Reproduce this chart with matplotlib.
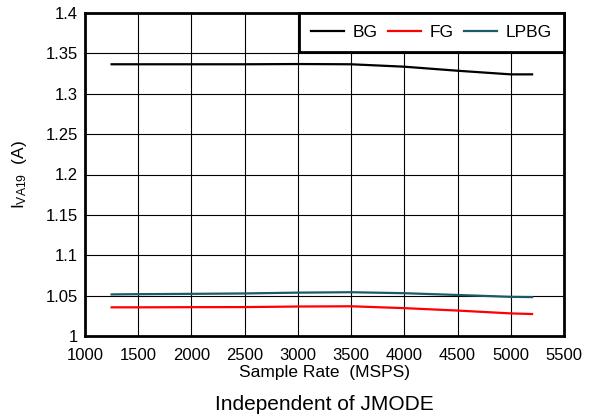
import matplotlib
matplotlib.use('Agg')
import matplotlib.pyplot as plt
import numpy as np

plt.rcParams['font.family'] = ['Liberation Sans', 'DejaVu Sans']
plt.rcParams['mathtext.fontset'] = 'custom'
plt.rcParams['mathtext.rm'] = 'Liberation Sans'
plt.rcParams['mathtext.it'] = 'Liberation Sans'

# Data
rate = [1250, 1500, 2000, 2500, 3000, 3500, 4000, 4500, 5000, 5200]
bg = [1.3365, 1.3365, 1.3365, 1.3365, 1.3368, 1.3365, 1.3335, 1.3285, 1.3240, 1.3240]
fg = [1.0355, 1.0355, 1.0357, 1.0358, 1.0365, 1.0368, 1.0345, 1.0315, 1.0280, 1.0272]
lpbg = [1.0515, 1.0518, 1.0522, 1.0527, 1.0537, 1.0542, 1.0530, 1.0508, 1.0485, 1.0482]

fig = plt.figure(figsize=(5.91, 4.2), dpi=100)
ax = fig.add_axes([85/591, 1 - 336/420, (564-85)/591, (336-13)/420])

ax.plot(rate, bg, color='black', lw=1.6, label='BG')
ax.plot(rate, fg, color='#ff0000', lw=1.6, label='FG')
ax.plot(rate, lpbg, color='#1a5a6a', lw=1.6, label='LPBG')

ax.set_xlim(1000, 5500)
ax.set_ylim(1, 1.4)
ax.set_xticks(np.arange(1000, 5501, 500))
ax.set_yticks(np.arange(1.0, 1.401, 0.05))
ax.set_yticklabels(['1', '1.05', '1.1', '1.15', '1.2', '1.25', '1.3', '1.35', '1.4'])
ax.grid(True, color='black', lw=0.8)
ax.tick_params(length=0, labelsize=12)
ax.tick_params(axis='x', pad=9)
ax.tick_params(axis='y', pad=5)
for s in ax.spines.values():
    s.set_linewidth(2)

ax.set_xlabel('Sample Rate  (MSPS)', fontsize=12.5, labelpad=1)
ax.set_ylabel(r'I$_{\mathregular{VA19}}$  (A)', fontsize=12.5, labelpad=12)

leg = ax.legend(loc='upper right', ncol=3, frameon=True, fancybox=False,
                fontsize=12.5, borderaxespad=0, handlelength=1.9,
                columnspacing=0.6, handletextpad=0.5, borderpad=0.7)
leg.get_frame().set_edgecolor('black')
leg.get_frame().set_linewidth(2)
leg.get_frame().set_alpha(1)

fig.text(0.5 * (85 + 564) / 591, 1 - 405/420, 'Independent of JMODE',
         ha='center', va='center', fontsize=15)

fig.savefig('out.png', dpi=100)
